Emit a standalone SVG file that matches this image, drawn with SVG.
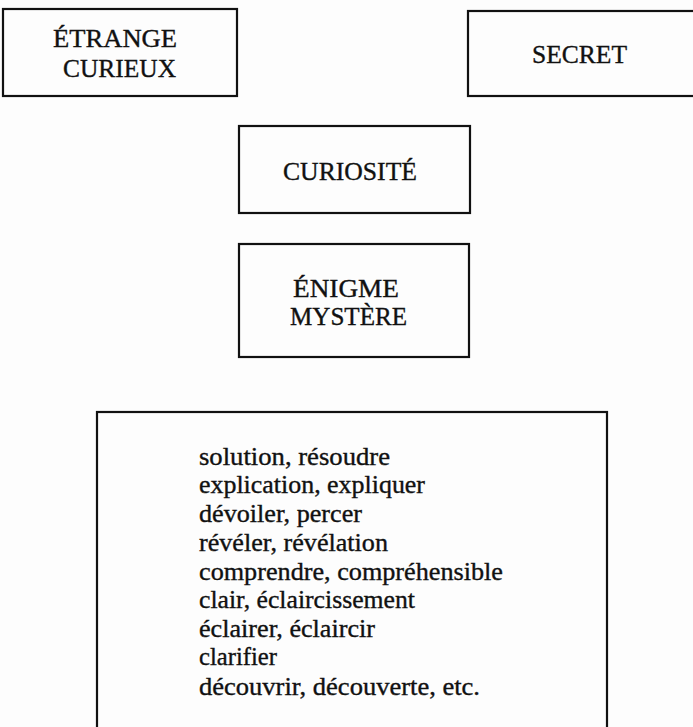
<svg xmlns="http://www.w3.org/2000/svg" width="693" height="727" viewBox="0 0 693 727">
<style>
.box{fill:none;stroke:#111;stroke-width:2.2}
.t{font-family:"Liberation Serif","Times New Roman",serif;font-size:25px;fill:#111;stroke:#111;stroke-width:0.35}
.l{font-family:"Liberation Serif","Times New Roman",serif;font-size:24.5px;fill:#111;stroke:#111;stroke-width:0.35}
</style>
<rect x="0" y="0" width="693" height="727" fill="#fdfdfd"/>
<g id="etrange">
<rect class="box" x="3" y="9" width="234" height="87"/>
<text class="t" x="53" y="47" textLength="124" lengthAdjust="spacingAndGlyphs">ÉTRANGE</text>
<text class="t" x="63" y="77" textLength="113" lengthAdjust="spacingAndGlyphs">CURIEUX</text>
</g>
<g id="secret">
<rect class="box" x="468" y="11" width="240" height="85"/>
<text class="t" x="532" y="63" textLength="95" lengthAdjust="spacingAndGlyphs">SECRET</text>
</g>
<g id="curiosite">
<rect class="box" x="239" y="126" width="231" height="87"/>
<text class="t" x="283" y="180" textLength="134" lengthAdjust="spacingAndGlyphs">CURIOSITÉ</text>
</g>
<g id="enigme">
<rect class="box" x="239" y="244" width="230" height="113"/>
<text class="t" x="293" y="297" textLength="106" lengthAdjust="spacingAndGlyphs">ÉNIGME</text>
<text class="t" x="290" y="325" textLength="117" lengthAdjust="spacingAndGlyphs">MYSTÈRE</text>
</g>
<g id="solution">
<rect class="box" x="97" y="412" width="510" height="330"/>
<text class="l" x="199" y="465" textLength="191" lengthAdjust="spacingAndGlyphs">solution, résoudre</text>
<text class="l" x="199" y="493" textLength="226" lengthAdjust="spacingAndGlyphs">explication, expliquer</text>
<text class="l" x="199" y="522" textLength="163" lengthAdjust="spacingAndGlyphs">dévoiler, percer</text>
<text class="l" x="199" y="551" textLength="189" lengthAdjust="spacingAndGlyphs">révéler, révélation</text>
<text class="l" x="199" y="580" textLength="304" lengthAdjust="spacingAndGlyphs">comprendre, compréhensible</text>
<text class="l" x="199" y="608" textLength="216" lengthAdjust="spacingAndGlyphs">clair, éclaircissement</text>
<text class="l" x="199" y="637" textLength="176" lengthAdjust="spacingAndGlyphs">éclairer, éclaircir</text>
<text class="l" x="199" y="665" textLength="78" lengthAdjust="spacingAndGlyphs">clarifier</text>
<text class="l" x="199" y="695" textLength="281" lengthAdjust="spacingAndGlyphs">découvrir, découverte, etc.</text>
</g>
<g id="connectors"></g>
</svg>
